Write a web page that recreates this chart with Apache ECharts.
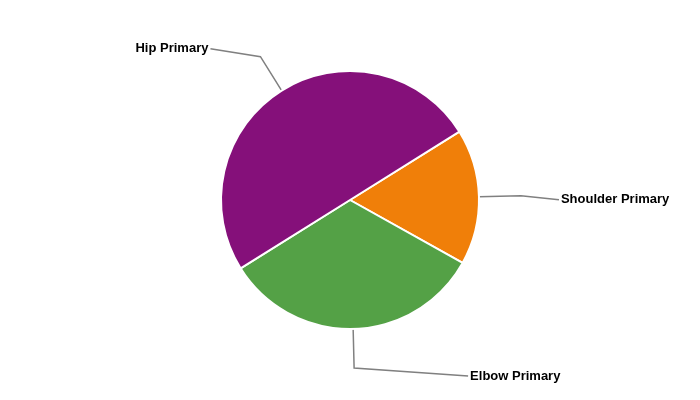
<!DOCTYPE html>
<html>
<head>
<meta charset="utf-8">
<script src="https://cdn.jsdelivr.net/npm/echarts@6/dist/echarts.min.js"></script>
<style>html,body{margin:0;padding:0;background:#fff;}#c{width:700px;height:400px;}</style>
</head>
<body>
<div id="c"></div>
<script>
const categories = ['Shoulder Primary', 'Elbow Primary', 'Hip Primary'];
const values = [17, 33, 50];
const colors = ['#F07F09', '#54A146', '#85107A'];
const lineLen = [42, 39, 40];
const lineLen2 = [38, 114, 50];
const labelShift = [4, 8, -8];

const chart = echarts.init(document.getElementById('c'), null, {renderer: 'canvas'});
chart.setOption({
  animation: false,
  backgroundColor: '#ffffff',
  series: [{
    type: 'pie',
    center: [350, 200],
    radius: [0, 129],
    startAngle: 32,
    clockwise: true,
    avoidLabelOverlap: false,
    itemStyle: { borderColor: '#ffffff', borderWidth: 2 },
    label: {
      show: true,
      position: 'outside',
      color: '#000000',
      fontFamily: 'Liberation Sans, Arial, sans-serif',
      fontWeight: 'bold',
      fontSize: 13,
      distanceToLabelLine: 2
    },
    labelLine: {
      show: true,
      smooth: false,
      lineStyle: { color: '#808080', width: 1.5 }
    },
    labelLayout: function (p) {
      const dy = labelShift[p.dataIndex];
      const res = { dy: dy };
      if (p.labelLinePoints && p.labelLinePoints.length) {
        const pts = p.labelLinePoints.map(q => [q[0], q[1]]);
        pts[pts.length - 1][1] += dy;
        res.labelLinePoints = pts;
      }
      return res;
    },
    emphasis: { disabled: true },
    data: categories.map((n, i) => ({
      name: n,
      value: values[i],
      itemStyle: { color: colors[i] },
      labelLine: { length: lineLen[i], length2: lineLen2[i] }
    }))
  }]
});
</script>
</body>
</html>
